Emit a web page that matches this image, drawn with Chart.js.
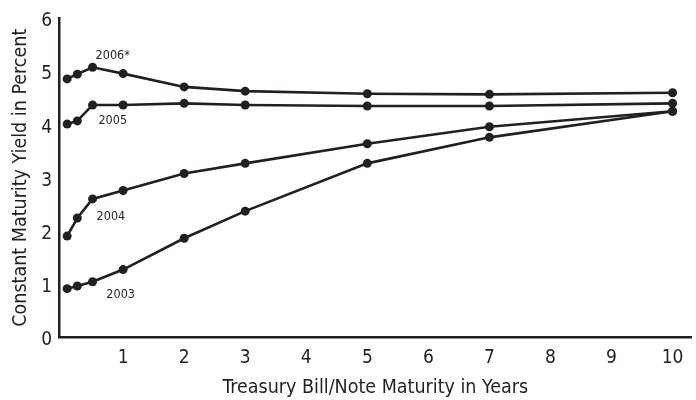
<!DOCTYPE html>
<html>
<head>
<meta charset="utf-8">
<script src="https://cdn.jsdelivr.net/npm/chart.js@4/dist/chart.umd.min.js"></script>
<style>
  html, body { margin: 0; padding: 0; background: #fff; }
  #wrap { width: 696px; height: 400px; position: relative; }
</style>
</head>
<body>
<div id="wrap"><canvas id="c" width="696" height="400"></canvas></div>
<script>
// Maturities in years (1 month, 3 months, 6 months, 1, 2, 3, 5, 7, 10 years)
const maturities = [1/12, 0.25, 0.5, 1, 2, 3, 5, 7, 10];
const yields2003 = [0.91, 0.96, 1.04, 1.27, 1.86, 2.37, 3.27, 3.76, 4.25];
const yields2004 = [1.90, 2.24, 2.60, 2.76, 3.08, 3.27, 3.64, 3.96, 4.25];
const yields2005 = [4.01, 4.07, 4.37, 4.37, 4.40, 4.37, 4.35, 4.35, 4.40];
const yields2006 = [4.86, 4.95, 5.08, 4.96, 4.71, 4.63, 4.58, 4.57, 4.60];
const seriesNames = ['2003', '2004', '2005', '2006*'];
const xTickValues = [1, 2, 3, 4, 5, 6, 7, 8, 9, 10];
const yTickValues = [0, 1, 2, 3, 4, 5, 6];
const xTitle = 'Treasury Bill/Note Maturity in Years';
const yTitle = 'Constant Maturity Yield in Percent';

// label anchor points (data coordinates) for the series names
const labelAnchors = [
  { x: 0.96, y: 0.80 },
  { x: 0.80, y: 2.26 },
  { x: 0.83, y: 4.08 },
  { x: 0.83, y: 5.29 }
];

const INK = '#231f20';
const FONT = "'DejaVu Sans Condensed', 'Liberation Sans Narrow', 'Arial Narrow', sans-serif";

const allSeries = [yields2003, yields2004, yields2005, yields2006];
const datasets = allSeries.map((vals, i) => ({
  label: seriesNames[i],
  data: maturities.map((m, j) => ({ x: m, y: vals[j] })),
  borderColor: INK,
  backgroundColor: INK,
  borderWidth: 2.6,
  pointRadius: 4.5,
  pointBorderWidth: 0,
  pointBackgroundColor: INK,
  tension: 0,
  fill: false
}));

const seriesLabelPlugin = {
  id: 'seriesLabels',
  afterDatasetsDraw(chart) {
    const { ctx, scales } = chart;
    ctx.save();
    ctx.fillStyle = INK;
    ctx.font = "12.5px " + FONT;
    ctx.textAlign = 'center';
    ctx.textBaseline = 'middle';
    labelAnchors.forEach((a, i) => {
      ctx.fillText(seriesNames[i], scales.x.getPixelForValue(a.x), scales.y.getPixelForValue(a.y));
    });
    ctx.restore();
  }
};

new Chart(document.getElementById('c'), {
  type: 'line',
  data: { datasets },
  options: {
    responsive: false,
    animation: false,
    layout: { padding: { top: 15, right: 0, left: 0, bottom: 0 } },
    plugins: { legend: { display: false }, tooltip: { enabled: false } },
    scales: {
      x: {
        type: 'linear',
        min: -0.05,
        max: 10.31,
        afterBuildTicks: (axis) => { axis.ticks = xTickValues.map(v => ({ value: v })); },
        afterFit: (scale) => { scale.height = 63; },
        grid: { display: false, drawTicks: false },
        border: { display: true, color: INK, width: 2.5 },
        ticks: {
          color: INK,
          font: { family: FONT, size: 19 },
          padding: 10,
          maxRotation: 0,
          autoSkip: false
        },
        title: {
          display: true,
          text: xTitle,
          color: INK,
          font: { family: FONT, size: 19.5 },
          padding: { top: 2, bottom: 0 }
        }
      },
      y: {
        type: 'linear',
        min: 0,
        max: 6,
        afterBuildTicks: (axis) => { axis.ticks = yTickValues.map(v => ({ value: v })); },
        afterFit: (scale) => { scale.width = 59; },
        grid: { display: false, drawTicks: false },
        border: { display: true, color: INK, width: 2.5 },
        ticks: {
          color: INK,
          font: { family: FONT, size: 19 },
          padding: 7,
          labelOffset: 3
        },
        title: {
          display: true,
          text: yTitle,
          color: INK,
          font: { family: FONT, size: 19.5 },
          padding: { top: 9, bottom: 0 }
        }
      }
    }
  },
  plugins: [seriesLabelPlugin]
});
</script>
</body>
</html>
